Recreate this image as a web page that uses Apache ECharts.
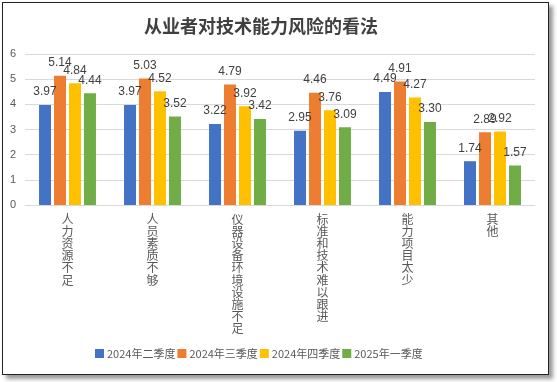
<!DOCTYPE html>
<html><head><meta charset="utf-8">
<script src="https://cdn.jsdelivr.net/npm/echarts@6/dist/echarts.min.js"></script>
<style>
html,body{margin:0;padding:0;background:#fff;width:557px;height:382px;overflow:hidden}
#frame{position:absolute;left:2px;top:2px;width:545px;height:371px;border:1px solid #222;box-shadow:4px 4px 4px #999;background:#fff}
#c{position:absolute;left:0;top:0;width:557px;height:382px}
</style></head>
<body>
<div id="frame"></div>
<div id="c"></div>
<script>
const categories = ['人力资源不足','人员素质不够','仪器设备环境设施不足','标准和技术难以跟进','能力项目太少','其他'];
const seriesNames = ['2024年二季度','2024年三季度','2024年四季度','2025年一季度'];
const q2_2024 = [3.97, 3.97, 3.22, 2.95, 4.49, 1.74];
const q3_2024 = [5.14, 5.03, 4.79, 4.46, 4.91, 2.89];
const q4_2024 = [4.84, 4.52, 3.92, 3.76, 4.27, 2.92];
const q1_2025 = [4.44, 3.52, 3.42, 3.09, 3.30, 1.57];
const colors = ['#4472c4','#ed7d31','#ffc000','#70ad47'];
const allData = [q2_2024, q3_2024, q4_2024, q1_2025];

const chart = echarts.init(document.getElementById('c'));
chart.setOption({
  backgroundColor: 'transparent',
  animation: false,
  title: {
    text: '从业者对技术能力风险的看法',
    left: 139, top: 12,
    textStyle: {fontFamily: 'Noto Sans CJK SC', fontSize: 18, fontWeight: 'bold', color: '#404040'}
  },
  legend: {
    bottom: 18, left: 90,
    itemWidth: 9, itemHeight: 9, itemGap: 2,
    icon: 'rect',
    textStyle: {fontFamily: 'Noto Sans CJK SC', fontSize: 11, color: '#595959', padding: [0,0,0,-2]},
    data: seriesNames
  },
  grid: {left: 25, right: 22, top: 54, bottom: 177, containLabel: false},
  xAxis: {
    type: 'category', data: categories,
    axisLine: {lineStyle: {color: '#d9d9d9'}},
    axisTick: {show: false},
    axisLabel: {
      interval: 0, margin: 8,
      fontFamily: 'Noto Sans CJK SC', fontSize: 12, lineHeight: 12.2, color: '#595959',
      formatter: v => v.split('').join('\n'),
      verticalAlign: 'top'
    }
  },
  yAxis: {
    type: 'value', min: 0, max: 6, interval: 1,
    axisLine: {show: false}, axisTick: {show: false},
    axisLabel: {margin: 9, fontFamily: 'Liberation Sans', fontSize: 11, color: '#595959'},
    splitLine: {lineStyle: {color: '#d9d9d9'}}
  },
  series: seriesNames.map((n, i) => ({
    name: n, type: 'bar', data: allData[i],
    itemStyle: {color: colors[i]},
    barGap: '25%', barCategoryGap: '33%',
    label: {
      show: true, position: 'top', distance: 7,
      formatter: p => p.value.toFixed(2),
      fontFamily: 'Liberation Sans', fontSize: 12, color: '#404040'
    }
  }))
});
</script>
</body></html>
